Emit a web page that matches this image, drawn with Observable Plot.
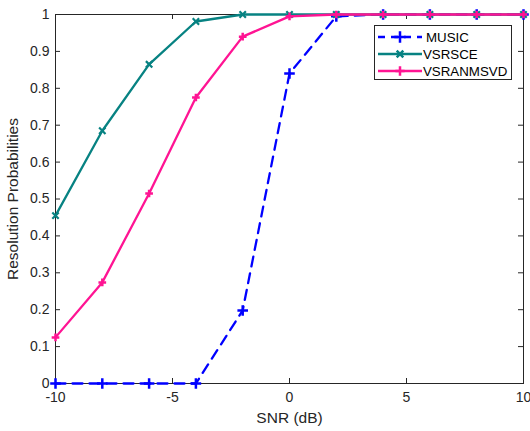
<!DOCTYPE html>
<html><head><meta charset="utf-8">
<script src="https://cdn.jsdelivr.net/npm/d3@7"></script>
<script src="https://cdn.jsdelivr.net/npm/@observablehq/plot@0.6"></script>
<style>
body{margin:0;background:#fff;font-family:"Liberation Sans",Arial,sans-serif}
#wrap{position:relative;width:530px;height:431px}
#legend{position:absolute;left:0;top:0}
</style>
</head><body><div id="wrap"></div>
<script>
const snr = [-10, -8, -6, -4, -2, 0, 2, 4, 6, 8, 10];
const music = [0, 0, 0, 0, 0.198, 0.84, 0.995, 1, 1, 1, 1];
const vsrsce = [0.455, 0.685, 0.865, 0.981, 1, 1, 1, 1, 1, 1, 1];
const vsranmsvd = [0.125, 0.274, 0.515, 0.775, 0.94, 0.995, 1, 1, 1, 1, 1];
const seriesNames = ["MUSIC", "VSRSCE", "VSRANMSVD"];
const seriesColors = ["#0000ff", "#078282", "#ff1493"];
const xTicks = [-10, -5, 0, 5, 10];
const yTicks = [0, 0.1, 0.2, 0.3, 0.4, 0.5, 0.6, 0.7, 0.8, 0.9, 1];

const W = 530, H = 431;
const mL = 55, mR = 7, mT = 14, mB = 48;
const iw = W - mL - mR, ih = H - mT - mB;
const tick = 5;
const fs = 14, fsLabel = 15.5, fsLegend = 13.3;

const rows = (vals, name) => snr.map((x, i) => ({x, y: vals[i], name}));
const dMusic = rows(music, "MUSIC");
const dSce = rows(vsrsce, "VSRSCE");
const dSvd = rows(vsranmsvd, "VSRANMSVD");

const axisColor = "#262626";
const chart = Plot.plot({
  width: W, height: H,
  marginLeft: mL, marginRight: mR, marginTop: mT, marginBottom: mB,
  style: {fontFamily: "'Liberation Sans', Arial, sans-serif", fontSize: fs + "px", color: axisColor, background: "#fff", overflow: "visible"},
  x: {domain: [-10, 10]},
  y: {domain: [0, 1]},
  marks: [
    Plot.axisX({ticks: xTicks, tickSize: 0, tickPadding: 9, tickFormat: d => String(d), label: null}),
    Plot.axisY({ticks: yTicks, tickSize: 0, tickPadding: 6, tickFormat: d => String(d), label: null}),
    Plot.ruleX(xTicks, {x: d => d, insetTop: ih - tick, stroke: axisColor}),
    Plot.ruleX(xTicks, {x: d => d, insetBottom: ih - tick, stroke: axisColor}),
    Plot.ruleY(yTicks, {y: d => d, insetRight: iw - tick, stroke: axisColor}),
    Plot.ruleY(yTicks, {y: d => d, insetLeft: iw - tick, stroke: axisColor}),
    Plot.frame({stroke: axisColor}),
    Plot.line(dMusic, {x: "x", y: "y", stroke: seriesColors[0], strokeWidth: 2.3, strokeDasharray: "10,7"}),
    Plot.dot(dMusic, {x: "x", y: "y", symbol: "plus", r: 3.5, stroke: seriesColors[0], strokeWidth: 2.5}),
    Plot.line(dSce, {x: "x", y: "y", stroke: seriesColors[1], strokeWidth: 2.3}),
    Plot.dot(dSce, {x: "x", y: "y", symbol: "times", r: 3, stroke: seriesColors[1], strokeWidth: 2.2}),
    Plot.line(dSvd, {x: "x", y: "y", stroke: seriesColors[2], strokeWidth: 2.3}),
    Plot.dot(dSvd, {x: "x", y: "y", symbol: "plus", r: 2.6, stroke: seriesColors[2], strokeWidth: 2.5}),
    Plot.text(["SNR (dB)"], {frameAnchor: "bottom", dy: 35, lineAnchor: "middle", textAnchor: "middle", fill: axisColor, fontSize: fsLabel}),
    Plot.text(["Resolution Probabilities"], {frameAnchor: "left", rotate: -90, dx: -42, lineAnchor: "middle", textAnchor: "middle", fill: axisColor, fontSize: fsLabel})
  ]
});
document.getElementById("wrap").appendChild(chart);

// legend
const lg = d3.select("#wrap").append("svg").attr("id", "legend")
  .attr("width", W).attr("height", H)
  .style("font-family", "'Liberation Sans', Arial, sans-serif").style("font-size", fsLegend + "px");
lg.append("rect").attr("x", 374.5).attr("y", 25.5).attr("width", 137).attr("height", 54)
  .attr("fill", "#fff").attr("stroke", axisColor).attr("stroke-width", 1);
const rowY = [37, 54, 71];
const dash = ["7,6", null, null];
const sym = [d3.symbolPlus, d3.symbolTimes, d3.symbolPlus];
const symSize = [45, 30, 30];
seriesNames.forEach((n, i) => {
  const g = lg.append("g");
  g.append("line").attr("x1", 378).attr("x2", 422).attr("y1", rowY[i]).attr("y2", rowY[i])
    .attr("stroke", seriesColors[i]).attr("stroke-width", 2.3).attr("stroke-dasharray", dash[i]);
  g.append("path").attr("d", d3.symbol(sym[i], symSize[i])()).attr("transform", `translate(400,${rowY[i]})`)
    .attr("fill", "none").attr("stroke", seriesColors[i]).attr("stroke-width", 2.5);
  g.append("text").attr("x", i === 0 ? 426 : 423).attr("y", rowY[i]).attr("dy", "0.35em")
    .attr("fill", "#000").text(n);
});
</script>
</body></html>
